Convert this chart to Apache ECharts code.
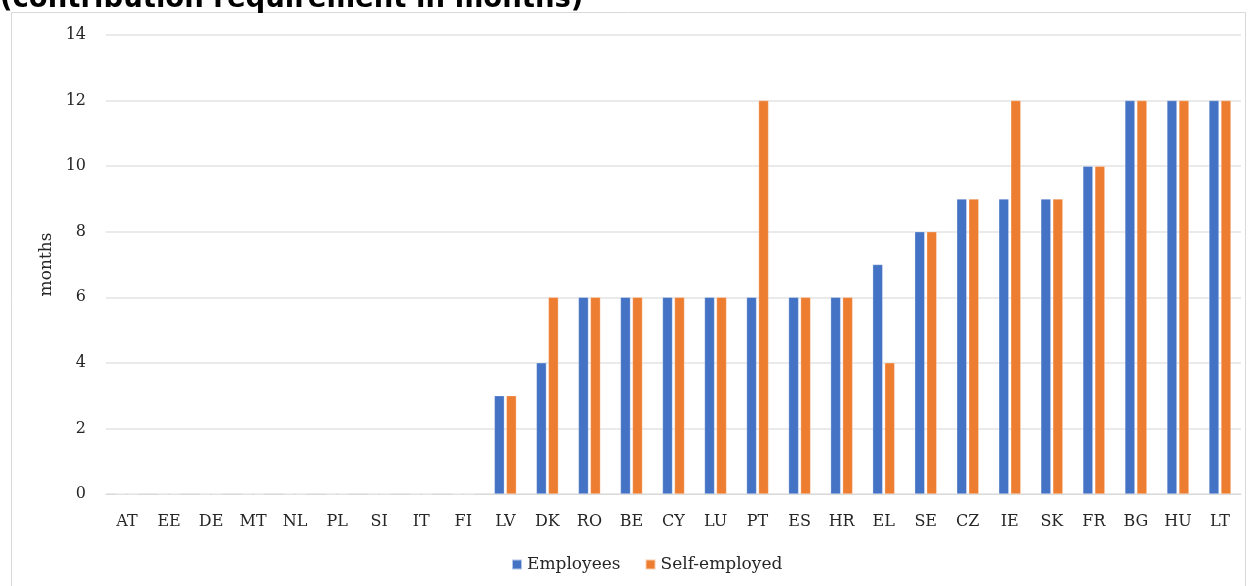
<!DOCTYPE html>
<html>
<head>
<meta charset="utf-8">
<script src="https://cdn.jsdelivr.net/npm/echarts@6/dist/echarts.min.js"></script>
<style>
  html, body { margin: 0; padding: 0; background: #fff; }
  #chart { width: 1252px; height: 586px; }
</style>
</head>
<body>
<div id="chart"></div>
<script>
const countries = ['AT', 'EE', 'DE', 'MT', 'NL', 'PL', 'SI', 'IT', 'FI', 'LV', 'DK', 'RO', 'BE', 'CY',
  'LU', 'PT', 'ES', 'HR', 'EL', 'SE', 'CZ', 'IE', 'SK', 'FR', 'BG', 'HU', 'LT']
const employees = [0, 0, 0, 0, 0, 0, 0, 0, 0, 3, 4, 6, 6, 6, 6, 6, 6, 6, 7, 8, 9, 9, 9, 10, 12, 12, 12]
const selfEmployed = [0, 0, 0, 0, 0, 0, 0, 0, 0, 3, 6, 6, 6, 6, 6, 12, 6, 6, 4, 8, 9, 12, 9, 10, 12, 12, 12]
const yTicks = [0, 14, 2]  // min, max, interval

const serif = '"DejaVu Serif", "Liberation Serif", serif'
const textColor = '#262626'
const chart = echarts.init(document.getElementById('chart'))

chart.setOption({
  animation: false,
  backgroundColor: '#fff',
  graphic: [
    {
      type: 'rect',
      shape: { x: 11.5, y: 12.5, width: 1234, height: 600 },
      style: { fill: 'none', stroke: '#d9d9d9', lineWidth: 1 },
      silent: true,
    },
    {
      type: 'text',
      x: 0,
      y: 14,
      style: {
        text: '(contribution requirement in months)',
        fontFamily: '"DejaVu Sans", Verdana, sans-serif',
        fontWeight: 'bold',
        fontSize: 27.5,
        fill: '#000',
        verticalAlign: 'bottom',
      },
    },
  ],
  grid: { left: 106, right: 11, top: 35, bottom: 92 },
  legend: {
    bottom: 8,
    left: 506,
    icon: 'rect',
    itemWidth: 10,
    itemHeight: 10,
    itemGap: 24,
    textStyle: { fontFamily: serif, fontSize: 17, color: textColor },
    data: ['Employees', 'Self-employed'],
  },
  xAxis: {
    type: 'category',
    data: countries,
    axisLine: { lineStyle: { color: '#d9d9d9' } },
    axisTick: { show: false },
    axisLabel: { fontFamily: serif, fontSize: 16, color: textColor, margin: 20, interval: 0 },
  },
  yAxis: {
    type: 'value',
    min: yTicks[0],
    max: yTicks[1],
    interval: yTicks[2],
    name: 'months',
    nameLocation: 'middle',
    nameGap: 46,
    nameTextStyle: { fontFamily: serif, fontSize: 17, color: textColor },
    axisLabel: { fontFamily: serif, fontSize: 16, color: textColor, margin: 20 },
    splitLine: { lineStyle: { color: '#e3e3e3', width: 1.5 } },
  },
  series: [
    {
      name: 'Employees',
      type: 'bar',
      data: employees,
      barWidth: 10,
      barGap: '20%',
      itemStyle: { color: '#4472C4', borderColor: 'rgba(255,255,255,0.6)', borderWidth: 0.5 },
    },
    {
      name: 'Self-employed',
      type: 'bar',
      data: selfEmployed,
      barWidth: 10,
      barGap: '20%',
      itemStyle: { color: '#ED7D31', borderColor: 'rgba(255,255,255,0.6)', borderWidth: 0.5 },
    },
  ],
})
</script>
</body>
</html>
